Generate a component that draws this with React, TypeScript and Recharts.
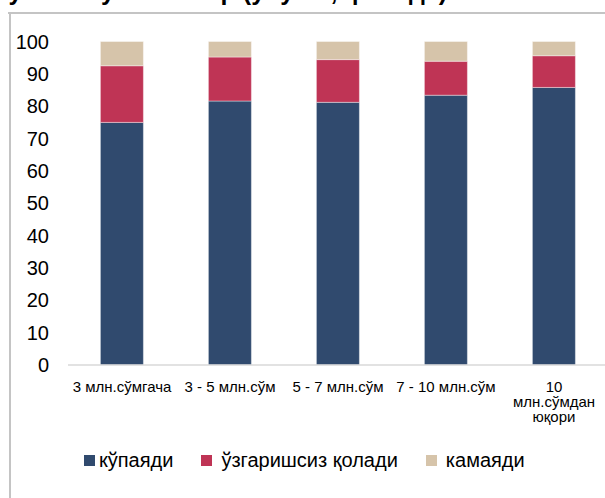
import React from 'react'
import { BarChart, Bar, XAxis, YAxis } from 'recharts'

const categories = [
  '3 млн.сўмгача',
  '3 - 5 млн.сўм',
  '5 - 7 млн.сўм',
  '7 - 10 млн.сўм',
  '10\nмлн.сўмдан\nюқори',
]
const increase = [75.0, 81.6, 81.2, 83.4, 85.8]
const unchanged = [17.5, 13.6, 13.2, 10.5, 9.8]
const decrease = [7.5, 4.8, 5.6, 6.1, 4.4]
const yTicks = [0, 10, 20, 30, 40, 50, 60, 70, 80, 90, 100]

const seriesNames = ['кўпаяди', 'ўзгаришсиз қолади', 'камаяди']
const colors = ['#304A6E', '#BF3455', '#D6C4AA']

const title = 'Уй-жой нархлари бўйича кутилмалар (улуши, фоизда)'

const FONT = '"Liberation Sans", Arial, sans-serif'

const data = categories.map(function (c, i) {
  return { name: c, up: increase[i], same: unchanged[i], down: decrease[i] }
})

function CategoryTick(props: any) {
  const { x, y, payload } = props
  const lines = String(payload.value).split('\n')
  return (
    <text x={x} y={y} textAnchor="middle" fontSize={15} fill="#000" fontFamily={FONT}>
      {lines.map(function (l, i) {
        return (
          <tspan key={i} x={x} dy={i === 0 ? 27 : 15}>
            {l}
          </tspan>
        )
      })}
    </text>
  )
}

function LegendBox() {
  const gaps = [4, 9, 9]
  return (
    <div style={{
      position: 'absolute', left: 0, top: 448, width: 605, height: 24,
      display: 'flex', alignItems: 'center', fontFamily: FONT, fontSize: 20, color: '#000',
    }}>
      {seriesNames.map(function (n, i) {
        return (
          <div key={n} style={{ display: 'flex', alignItems: 'center', marginLeft: i === 0 ? 84 : 28 }}>
            <span style={{ width: 11, height: 11, background: colors[i], display: 'inline-block', marginRight: gaps[i] }} />
            <span>{n}</span>
          </div>
        )
      })}
    </div>
  )
}

export default function App() {
  return (
    <div style={{ position: 'fixed', left: 0, top: 0, width: 605, height: 498, overflow: 'hidden', background: '#fff' }}>
      <div style={{ position: 'absolute', left: 0, top: 0 }}>
        <BarChart
          width={620}
          height={440}
          data={data}
          margin={{ top: 41.5, right: 12, bottom: 0, left: 0 }}
          barCategoryGap="30%"
        >
          <XAxis
            dataKey="name"
            interval={0}
            tick={<CategoryTick />}
            tickLine={false}
            tickSize={0}
            tickMargin={0}
            height={75}
            axisLine={{ stroke: '#D9D9D9', strokeWidth: 1.5 }}
          />
          <YAxis
            domain={[0, 100]}
            ticks={yTicks}
            width={68}
            axisLine={false}
            tickLine={false}
            tickSize={0}
            tickMargin={19}
            tick={{ fontSize: 20, fill: '#000', fontFamily: FONT }}
          />
          <Bar dataKey="up" stackId="a" fill={colors[0]} stroke="#ffffff" strokeOpacity={0.4} strokeWidth={1} isAnimationActive={false} />
          <Bar dataKey="same" stackId="a" fill={colors[1]} stroke="#ffffff" strokeOpacity={0.4} strokeWidth={1} isAnimationActive={false} />
          <Bar dataKey="down" stackId="a" fill={colors[2]} stroke="#ffffff" strokeOpacity={0.4} strokeWidth={1} isAnimationActive={false} />
        </BarChart>
      </div>
      <LegendBox />
      <svg style={{ position: 'absolute', left: 0, top: 0, pointerEvents: 'none' }} width={605} height={498}>
        <text x={447} y={0} textAnchor="end" fontSize={25} fontWeight={700} fontFamily={FONT} fill="#000">
          {title}
        </text>
        <line x1={8} y1={13} x2={605} y2={13} stroke="#C4C4C4" strokeWidth={2} />
        <line x1={10} y1={12} x2={10} y2={498} stroke="#C4C4C4" strokeWidth={2} />
      </svg>
    </div>
  )
}
